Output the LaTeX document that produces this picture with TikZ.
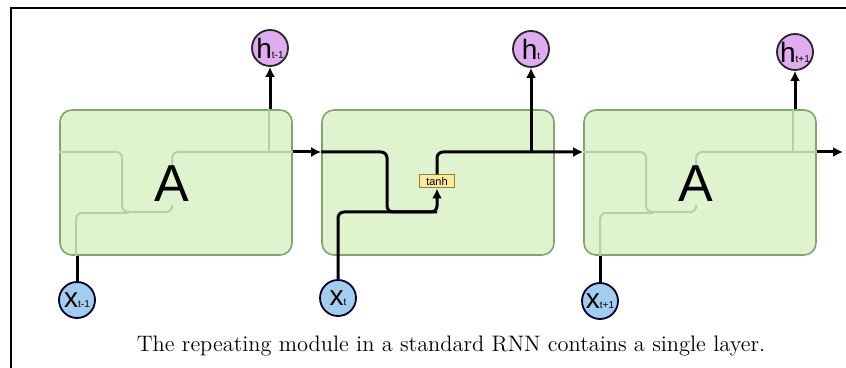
\documentclass[tikz,border=0pt]{standalone}
\usepackage{fontspec}
\setsansfont{Liberation Sans}
\usetikzlibrary{arrows.meta}

\definecolor{cellgreen}{RGB}{223,243,207}
\definecolor{celledge}{RGB}{130,164,110}
\definecolor{ghostline}{RGB}{184,206,168}
\definecolor{hpurple}{RGB}{224,172,240}
\definecolor{xblue}{RGB}{162,205,238}
\definecolor{tanhyellow}{RGB}{250,234,160}
\definecolor{tanhedge}{RGB}{150,128,50}

\newcommand{\statelab}[1]{{\fontsize{14}{14}\selectfont h}{\fontsize{5}{5}\selectfont #1}}
\newcommand{\inputlab}[1]{{\fontsize{14}{14}\selectfont x}{\fontsize{5}{5}\selectfont #1}}

\begin{document}
\begin{tikzpicture}[x=0.5pt, y=-0.5pt,
    cell/.style={draw=celledge, fill=cellgreen, line width=0.8pt, rounded corners=6pt,
                 minimum width=116pt, minimum height=72.5pt, inner sep=0pt},
    hstate/.style={circle, draw=black!85, fill=hpurple, line width=0.9pt,
                   minimum size=18pt, inner sep=0pt, font=\sffamily},
    xin/.style={circle, draw=black!85!blue, fill=xblue, line width=0.9pt,
                minimum size=18pt, inner sep=0pt, font=\sffamily},
    layerbox/.style={draw=tanhedge, fill=tanhyellow, line width=0.5pt,
                     minimum width=17.5pt, minimum height=6.5pt, inner sep=0pt,
                     font=\sffamily\fontsize{5.5}{6}\selectfont},
    wire/.style={line width=1.5pt, rounded corners=3pt},
    flow/.style={wire, -{Latex[length=5pt,width=5pt]}},
    faint/.style={draw=ghostline, line width=1pt, rounded corners=3pt},
    bigA/.style={font=\sffamily\fontsize{26}{26}\selectfont}]
    \useasboundingbox (0,0) rectangle (846,368);

    % Frame (top and left edges only)
    \draw[line width=1.2pt] (11,368) -- (11,8) -- (846,8);

    % y level of the hidden state line
    \coordinate (state) at (0,152);

    % The three cells
    \node[cell] (box1) at (176,182.5) {};
    \node[cell] (box2) at (438,182.5) {};
    \node[cell] (box3) at (700,182.5) {};

    % Faint inner wiring seen through the outer cells
    \foreach \c in {box1, box3} {
        \draw[faint] (\c.west |- state) -- ++(63,0) -- ++(0,60) -- ++(50,0) -- ++(0,-7);
        \draw[faint] ([xshift=8.5pt]\c.south west) -- ++(0,-43) -- ++(53,0);
        \draw[faint] (\c.west |- state) ++(113,13) -- ++(0,-13) -- (\c.east |- state);
        \draw[faint] (\c.west |- state) ++(210,0) -- ++(0,-42);
    }

    % Big "A" labels
    \node[bigA] (A1) at (172,184) {A};
    \node[bigA] (A3) at (696,184) {A};

    % Outputs and inputs
    \node[hstate] (h1) at (270,48) {\statelab{t-1}};
    \node[hstate] (h2) at (531,49) {\statelab{t}};
    \node[hstate] (h3) at (795,52) {\statelab{t+1}};
    \node[xin] (x1) at (77,300) {\inputlab{t-1}};
    \node[xin] (x2) at (338,298) {\inputlab{t}};
    \node[xin] (x3) at (600,301) {\inputlab{t+1}};

    % tanh layer in the middle cell
    \node[layerbox] (tanh) at (437,181.5) {tanh};
    \coordinate (merge) at (387,212);
    \coordinate (out) at (843,152);

    % Left cell
    \draw[wire] (x1) -- (x1 |- box1.south);
    \draw[flow] (h1 |- box1.north) -- (h1);
    \draw[flow] (box1.east |- state) -- (box2.west |- state);

    % Middle cell
    \draw[wire] (box2.west |- state) -| (merge) -- (tanh |- merge);
    \draw[flow] (x2) |- (tanh |- merge) -- (tanh);
    \draw[flow] (tanh) |- (box3.west |- state);
    \draw[flow] (h2 |- state) -- (h2);

    % Right cell
    \draw[wire] (x3) -- (x3 |- box3.south);
    \draw[flow] (h3 |- box3.north) -- (h3);
    \draw[flow] (box3.east |- state) -- (out);

    % Caption
    \node[anchor=base, font=\fontsize{11.2}{13}\selectfont] (caption) at (451,352)
        {The repeating module in a standard RNN contains a single layer.};
\end{tikzpicture}
\end{document}
